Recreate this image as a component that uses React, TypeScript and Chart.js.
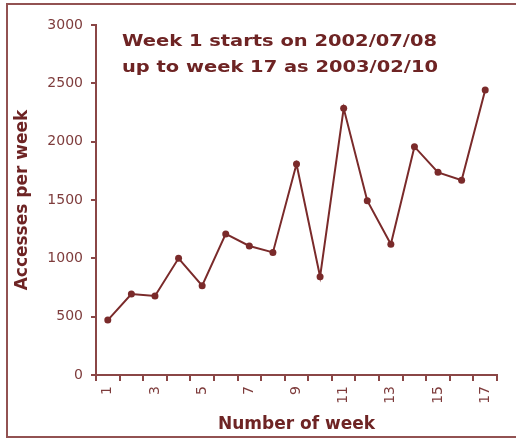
import React, { useEffect, useRef } from "react";
import { Chart, registerables } from "chart.js";

Chart.register(...registerables);

const weeks = ["1","2","3","4","5","6","7","8","9","10","11","12","13","14","15","16","17"];
const accesses = [471, 694, 677, 1000, 766, 1209, 1106, 1051, 1809, 843, 2286, 1494, 1120, 1957, 1737, 1669, 2443];
const noteLines = ["Week 1 starts on 2002/07/08", "up to week 17 as 2003/02/10"];
const yTitle = "Accesses per week";
const xTitle = "Number of week";

const DARK = "#6e2424";
const LINE = "#7a2a2a";
const AXIS = "#8a4646";
const TICK = "#7e3c3c";
const FRAME = "#925252";

const notePlugin = {
  id: "notePlugin",
  afterDraw(chart: any) {
    const { ctx, chartArea } = chart;
    ctx.save();
    ctx.fillStyle = DARK;
    ctx.font = "bold 15px 'DejaVu Sans'";
    ctx.textBaseline = "alphabetic";
    ctx.textAlign = "left";
    const x0 = chartArea.left + 26;
    const targetW = 315;
    const w = ctx.measureText(noteLines[0]).width;
    const s = targetW / w;
    noteLines.forEach((t, i) => {
      ctx.save();
      ctx.translate(x0, chartArea.top + 21 + i * 26);
      ctx.scale(s, 1);
      ctx.fillText(t, 0, 0);
      ctx.restore();
    });
    ctx.restore();
  },
};

export default function App() {
  const ref = useRef<HTMLCanvasElement | null>(null);
  useEffect(() => {
    if (!ref.current) return;
    const chart = new Chart(ref.current, {
      type: "line",
      data: {
        labels: weeks,
        datasets: [
          {
            data: accesses,
            borderColor: LINE,
            borderWidth: 2,
            pointRadius: 3.5,
            pointBackgroundColor: LINE,
            pointBorderWidth: 0,
            tension: 0,
            fill: false,
          },
        ],
      },
      options: {
        responsive: false,
        animation: false,
        layout: { padding: { left: 8, top: 25, right: 19, bottom: 0 } },
        plugins: { legend: { display: false }, tooltip: { enabled: false }, title: { display: false } },
        scales: {
          x: {
            type: "category",
            offset: true,
            afterFit: (s: any) => { s.height = 64; },
            grid: { offset: true, drawOnChartArea: false, drawTicks: true, tickLength: 6, color: AXIS, lineWidth: 2 },
            border: { display: true, color: AXIS, width: 2 },
            ticks: {
              autoSkip: false,
              minRotation: 90,
              maxRotation: 90,
              padding: 5,
              color: TICK,
              font: { family: "'DejaVu Sans'", size: 14 },
              callback: (_v: any, i: number) => (i % 2 === 0 ? weeks[i] : ""),
            },
            title: {
              display: true,
              text: xTitle,
              color: DARK,
              padding: { top: 4, bottom: 4 },
              font: { family: "'DejaVu Sans'", size: 17, weight: "bold" },
            },
          },
          y: {
            min: 0,
            max: 3000,
            afterFit: (s: any) => { s.width = 88; },
            grid: { drawOnChartArea: false, drawTicks: true, tickLength: 5, color: AXIS, lineWidth: 2 },
            border: { display: true, color: AXIS, width: 2 },
            ticks: {
              stepSize: 500,
              padding: 8,
              color: TICK,
              font: { family: "'DejaVu Sans'", size: 14 },
              callback: (v: any) => String(v),
            },
            title: {
              display: true,
              text: yTitle,
              color: DARK,
              padding: { top: 4, bottom: 4 },
              font: { family: "'DejaVu Sans'", size: 17, weight: "bold" },
            },
          },
        },
      },
      plugins: [notePlugin],
    } as any);
    return () => chart.destroy();
  }, []);

  return (
    <div style={{ position: "absolute", left: 0, top: 0, width: 516, height: 439, background: "#fff", overflow: "hidden" }}>
      <div style={{ position: "absolute", left: 6, top: 3, width: 510, height: 2, background: FRAME }} />
      <div style={{ position: "absolute", left: 6, top: 3, width: 2, height: 435, background: FRAME }} />
      <div style={{ position: "absolute", left: 6, top: 436, width: 510, height: 2, background: FRAME }} />
      <canvas ref={ref} width={516} height={439} style={{ position: "absolute", left: 0, top: 0, width: 516, height: 439 }} />
    </div>
  );
}
